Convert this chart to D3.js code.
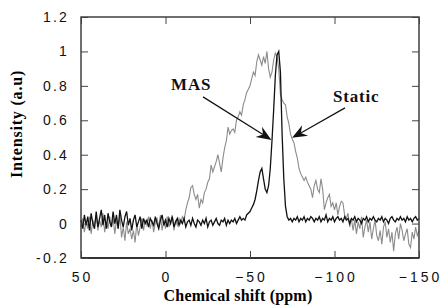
<!DOCTYPE html>
<html><head><meta charset="utf-8">
<script src="https://cdn.jsdelivr.net/npm/d3@7"></script>
<style>body{margin:0;background:#fff}svg{display:block}</style>
</head><body><svg id="c" width="441" height="308"></svg>
<script>
// chemical shift grid (ppm), 50 → -150 in 1 ppm steps
const ppmStart = 50, ppmEnd = -150;
const ppm = d3.range(ppmStart, ppmEnd - 1, -1);

// MAS spectrum (black)
const masValues = [
  0.02,-0.03,0.05,-0.01,0.04,-0.04,0.06,0.00,-0.03,0.07,
  -0.02,0.03,0.08,-0.01,0.05,-0.03,0.06,0.01,-0.02,0.07,
  0.00,0.05,-0.03,0.08,0.02,-0.02,0.04,0.07,-0.01,0.03,
  -0.04,0.02,0.05,-0.02,0.01,0.04,-0.03,0.03,0.00,0.02,
  -0.02,0.03,0.01,-0.01,0.04,0.00,-0.03,0.02,0.05,-0.01,
  0.02,-0.02,0.03,0.00,0.04,-0.02,0.01,0.03,-0.01,0.02,
  0.00,0.03,-0.02,0.01,0.02,-0.01,0.03,0.00,-0.02,0.02,
  0.01,-0.01,0.02,0.00,0.03,-0.02,0.01,0.02,-0.01,0.01,
  0.03,0.00,-0.01,0.02,0.01,0.03,-0.01,0.02,0.00,0.02,
  0.01,0.03,0.00,0.02,0.04,0.02,0.03,0.02,0.05,0.06,
  0.07,0.09,0.11,0.14,0.19,0.25,0.30,0.32,0.26,0.20,
  0.18,0.22,0.32,0.48,0.66,0.86,0.98,1.00,0.88,0.52,
  0.26,0.10,0.04,0.02,0.03,0.01,0.03,0.02,0.04,0.01,
  0.03,0.02,0.04,0.01,0.03,0.02,0.04,0.03,0.01,0.03,
  0.02,0.04,0.01,0.03,0.02,0.05,0.01,0.03,0.02,0.04,
  0.01,0.03,0.04,0.02,0.03,0.01,0.04,0.02,0.03,0.00,
  0.03,0.02,0.04,0.01,0.03,0.02,0.00,0.03,0.02,0.04,
  0.01,0.03,0.02,0.04,0.02,0.01,0.03,0.02,0.04,0.01,
  0.03,0.02,0.00,0.03,0.04,0.02,0.01,0.03,0.02,0.04,
  0.02,0.03,0.01,0.04,0.02,0.03,0.01,0.03,0.04,0.02,
  0.03
];

// Static spectrum (gray)
const staticValues = [
  -0.02,0.03,-0.05,0.01,-0.03,0.04,-0.06,0.02,-0.01,0.05,
  -0.04,0.02,-0.02,0.06,-0.05,0.01,-0.03,0.04,-0.02,0.03,
  -0.06,0.02,-0.03,0.05,-0.08,-0.02,-0.10,0.01,-0.06,-0.03,
  -0.09,-0.04,-0.11,0.00,-0.07,-0.02,0.03,-0.04,0.02,-0.01,
  0.04,-0.03,0.02,-0.05,0.01,0.03,-0.02,0.05,-0.04,0.02,
  -0.03,0.04,-0.02,0.01,0.05,-0.04,0.02,-0.01,0.03,0.00,
  0.04,0.02,0.08,0.12,0.15,0.21,0.22,0.17,0.14,0.17,
  0.09,0.14,0.12,0.18,0.20,0.24,0.26,0.34,0.30,0.33,
  0.36,0.40,0.35,0.30,0.38,0.44,0.48,0.56,0.52,0.54,
  0.55,0.53,0.60,0.62,0.65,0.63,0.69,0.72,0.76,0.78,
  0.80,0.84,0.88,0.86,0.94,0.98,0.95,0.92,0.97,0.93,
  1.00,0.90,0.85,0.88,0.95,0.99,0.97,0.90,0.75,0.72,
  0.70,0.69,0.62,0.58,0.52,0.49,0.47,0.42,0.38,0.32,
  0.29,0.27,0.25,0.27,0.24,0.22,0.20,0.15,0.22,0.25,
  0.20,0.18,0.26,0.20,0.08,0.12,0.15,0.17,0.10,0.12,
  0.08,0.12,0.05,0.10,0.13,0.12,0.05,0.03,0.06,-0.02,
  0.03,-0.04,0.02,-0.06,0.01,-0.03,0.04,-0.08,-0.02,0.02,
  -0.05,0.01,-0.09,-0.03,0.02,-0.07,-0.10,-0.04,-0.12,-0.02,
  0.01,-0.08,-0.03,-0.11,-0.05,-0.16,-0.06,-0.02,-0.09,0.00,
  -0.04,-0.10,-0.06,-0.03,-0.12,-0.14,-0.05,-0.09,-0.02,-0.07,
  -0.04
];

const xTicks = [50, 0, -50, -100, -150];
const yTicks = [-0.2, 0, 0.2, 0.4, 0.6, 0.8, 1, 1.2];
const yTickLabels = ["-0.2", "0", "0.2", "0.4", "0.6", "0.8", "1", "1.2"];

// annotations: label anchor and arrow tail/tip in data units
const annLabels = ["MAS", "Static"];
const annLabelPos = [[-3.3, 0.776], [-99.1, 0.709]];
const annTail = [[-22.2, 0.736], [-106.2, 0.672]];
const annTip = [[-62.7, 0.486], [-74.9, 0.498]];

const svg = d3.select("#c");
const L = 81, R = 419, T = 17, B = 258;
const x = d3.scaleLinear().domain([50, -150]).range([L, R]);
const y = d3.scaleLinear().domain([-0.2, 1.2]).range([B, T]);

const line = d3.line().x((d, i) => x(ppm[i])).y(d => y(d));

svg.append("path").datum(staticValues).attr("d", line)
  .attr("fill", "none").attr("stroke", "#8c8c8c").attr("stroke-width", 1.1);
svg.append("path").datum(masValues).attr("d", line)
  .attr("fill", "none").attr("stroke", "#111").attr("stroke-width", 1.3);

// frame
svg.append("rect").attr("x", L).attr("y", T).attr("width", R - L).attr("height", B - T)
  .attr("fill", "none").attr("stroke", "#333").attr("stroke-width", 1.4);
svg.append("line").attr("x1", L).attr("x2", R).attr("y1", B).attr("y2", B)
  .attr("stroke", "#333").attr("stroke-width", 2);

// axes
const tick = 7;
const gBottom = svg.append("g").attr("transform", `translate(0,${B})`)
  .call(d3.axisBottom(x).tickValues(xTicks).tickSizeInner(-tick).tickSizeOuter(0).tickPadding(14).tickFormat(d3.format("d")));
const gTop = svg.append("g").attr("transform", `translate(0,${T})`)
  .call(d3.axisTop(x).tickValues(xTicks).tickSizeInner(-tick).tickSizeOuter(0).tickFormat(""));
const gLeft = svg.append("g").attr("transform", `translate(${L},0)`)
  .call(d3.axisLeft(y).tickValues(yTicks).tickSizeInner(-tick).tickSizeOuter(0).tickPadding(12)
    .tickFormat((d, i) => yTickLabels[i]));
const gRight = svg.append("g").attr("transform", `translate(${R},0)`)
  .call(d3.axisRight(y).tickValues(yTicks).tickSizeInner(-tick).tickSizeOuter(0).tickFormat(""));
[gBottom, gTop, gLeft, gRight].forEach(g => {
  g.select(".domain").remove();
  g.selectAll(".tick line").attr("stroke", "#444").attr("stroke-width", 1);
  g.selectAll("text").attr("font-family", "Liberation Sans, Arial, sans-serif")
    .attr("font-size", 14).attr("fill", "#111");
});
gBottom.selectAll("text").attr("letter-spacing", 3).attr("dx", 1);
gLeft.selectAll("text").attr("letter-spacing", 2.2).attr("dy", "0.32em");

// axis titles
svg.append("text").attr("x", 238).attr("y", 301)
  .attr("text-anchor", "middle").attr("font-family", "Liberation Serif, Times New Roman, serif")
  .attr("font-weight", "bold").attr("font-size", 16).attr("letter-spacing", 0.2)
  .text("Chemical shift (ppm)");
svg.append("text").attr("transform", "translate(22,124) rotate(-90)")
  .attr("text-anchor", "middle").attr("font-family", "Liberation Serif, Times New Roman, serif")
  .attr("font-weight", "bold").attr("font-size", 16).attr("letter-spacing", 0.8)
  .text("Intensity (a.u)");

// annotations
annLabels.forEach((lab, i) => {
  svg.append("text").attr("x", x(annLabelPos[i][0])).attr("y", y(annLabelPos[i][1]))
    .attr("font-family", "Liberation Serif, Times New Roman, serif").attr("font-weight", "bold")
    .attr("font-size", 17).attr("letter-spacing", 0.8).attr("fill", "#111").text(lab);
  const x1 = x(annTail[i][0]), y1 = y(annTail[i][1]);
  const x2 = x(annTip[i][0]), y2 = y(annTip[i][1]);
  const ang = Math.atan2(y2 - y1, x2 - x1);
  const len = 15, half = 6, notch = 10;
  const bx = x2 - len * Math.cos(ang), by = y2 - len * Math.sin(ang);
  const nx = x2 - notch * Math.cos(ang), ny = y2 - notch * Math.sin(ang);
  const px = -Math.sin(ang), py = Math.cos(ang);
  svg.append("line").attr("x1", x1).attr("y1", y1).attr("x2", nx).attr("y2", ny)
    .attr("stroke", "#111").attr("stroke-width", 1.2);
  svg.append("path").attr("d", d3.line()([
    [x2, y2], [bx + half * px, by + half * py], [nx, ny], [bx - half * px, by - half * py]
  ]) + "Z").attr("fill", "#111");
});
</script></body></html>
